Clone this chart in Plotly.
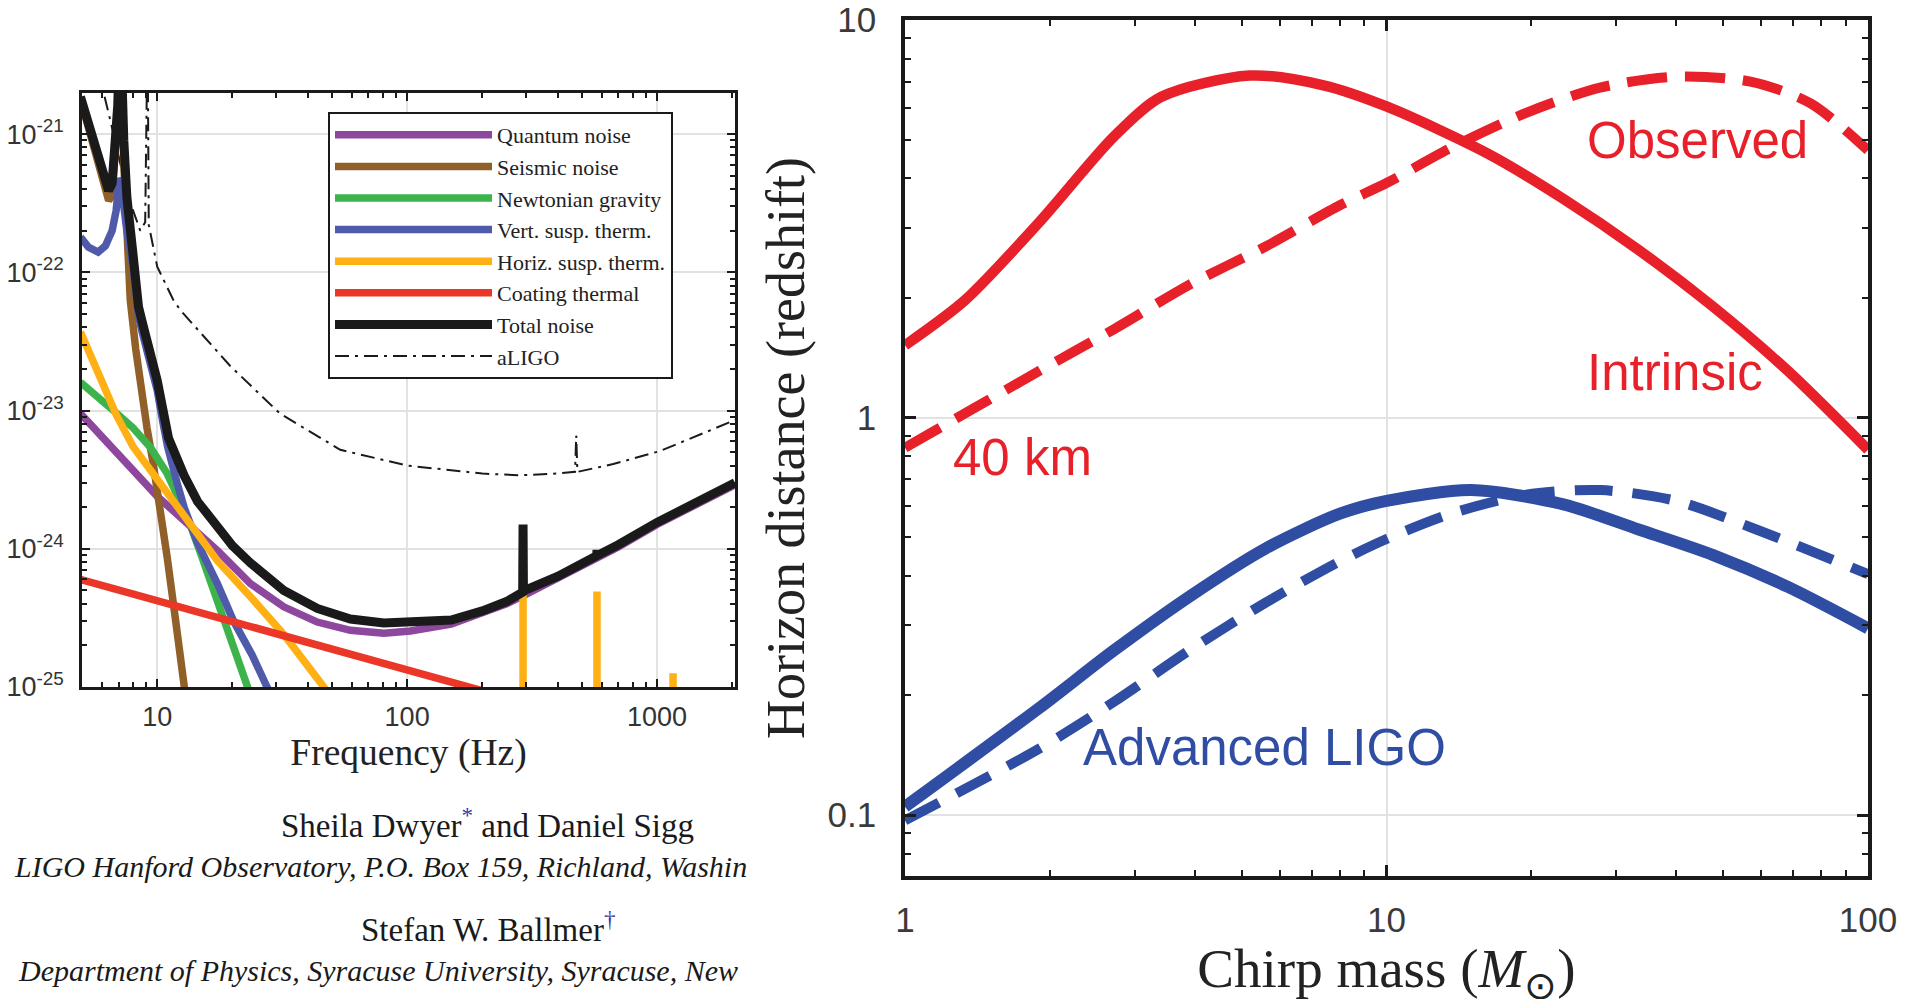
import math
import plotly.graph_objects as go

# ---------------- LEFT PANEL DATA (strain noise, 1/sqrt(Hz)) ----------------
quantum_f = [4.93, 7, 10, 12.8, 17.4, 23.6, 32.1, 43.7, 59.3, 80.7, 103, 150, 200, 250, 300, 400, 500, 700, 1000, 1500, 2050]
quantum_h = [9.5e-24, 4.8e-24, 2.4e-24, 1.6e-24, 9.7e-25, 5.6e-25, 3.8e-25, 2.95e-25, 2.57e-25, 2.45e-25, 2.54e-25,
             2.85e-25, 3.4e-25, 4.0e-25, 4.7e-25, 6.1e-25, 7.5e-25, 1.03e-24, 1.5e-24, 2.15e-24, 2.9e-24]

seismic_f = [4.93, 5.55, 6.0, 6.39, 6.6, 6.8, 6.95, 7.05, 7.12, 7.2, 7.35, 7.56, 7.8, 8.2, 8.68, 9.1, 9.6, 10.3, 10.96, 11.8, 12.8, 13.5]
seismic_h = [1.8e-21, 8.6e-22, 5e-22, 3.3e-22, 3.6e-22, 6.5e-22, 1.4e-21, 4e-21, 1e-20, 3e-21, 6e-22, 1.5e-22, 6.3e-23,
             2.8e-23, 1.3e-23, 7.5e-24, 4.3e-24, 1.9e-24, 8.7e-25, 3.2e-25, 1e-25, 5e-26]

newton_f = [4.93, 6.0, 6.86, 8.0, 9.4, 10.96, 13.2, 15.0, 17.4, 20.0, 22.9, 25.0]
newton_h = [1.6e-23, 1.2e-23, 9.6e-24, 7.5e-24, 5.4e-24, 3.5e-24, 1.7e-24, 9e-25, 4.2e-25, 2.1e-25, 1e-25, 6.5e-26]

vert_f = [4.93, 5.3, 5.8, 6.2, 6.6, 6.85, 7.0, 7.05, 7.15, 7.3, 7.56, 8.0, 8.2, 8.42, 8.7, 9.0, 10, 10.5, 11, 12,
          12.8, 14.5, 17.4, 20.2, 24, 27.5, 30]
vert_h = [1.8e-22, 1.52e-22, 1.4e-22, 1.55e-22, 2.0e-22, 2.8e-22, 4.2e-22, 4.8e-22, 4.5e-22, 3.2e-22, 2e-22, 1.1e-22,
          6.8e-23, 4.8e-23, 3.7e-23, 2.9e-23, 1.4e-23, 8.5e-24, 5.5e-24, 3e-24, 2.0e-24, 1.1e-24, 5.6e-25, 3.0e-25,
          1.7e-25, 1e-25, 7e-26]

# horizontal suspension thermal, incl. violin-mode lines at 291, 575, 1159 Hz
horiz_f = [4.93, 5.5, 6.0, 6.86, 8.0, 9.4, 12.8, 17.4, 23.6, 32.1, 46.4, 55, 200,
           291, 291, 291, 575, 575, 575, 1159, 1159, 1159, 2050]
horiz_h = [3.7e-23, 2.4e-23, 1.65e-23, 9.3e-24, 5.5e-24, 3.7e-24, 1.7e-24, 8.2e-25, 4.5e-25, 2.4e-25, 1e-25, 6.5e-26, 1e-27,
           1e-27, 4.7e-25, 1e-27, 1e-27, 4.9e-25, 1e-27, 1e-27, 1.26e-25, 1e-27, 1e-27]

coating_f = [4.93, 9.4, 103, 174, 250]
coating_h = [6.0e-25, 4.35e-25, 1.32e-25, 1.0e-25, 8.4e-26]

total_f = [4.93, 5.55, 6.0, 6.39, 6.6, 6.8, 6.95, 7.05, 7.12, 7.2, 7.35, 7.56, 8.0, 8.2, 8.42, 8.7, 9.0, 10, 10.5,
           11.1, 12.8, 14.5, 17.4, 20, 23.6, 32.1, 43.7, 59.3, 80.7, 103, 150, 200, 250, 290, 291, 291, 292, 400,
           500, 574, 575, 577, 700, 1000, 1500, 2050]
total_h = [1.86e-21, 9.1e-22, 5.3e-22, 3.9e-22, 4.4e-22, 8.1e-22, 1.6e-21, 4e-21, 1e-20, 3.2e-21, 9e-22, 3.5e-22,
           1.35e-22, 8e-23, 5.6e-23, 4.4e-23, 3.5e-23, 1.65e-23, 1.05e-23, 6.3e-24, 3.4e-24, 2.2e-24, 1.45e-24,
           1.05e-24, 7.9e-25, 5.0e-25, 3.7e-25, 3.1e-25, 2.9e-25, 2.95e-25, 3.05e-25, 3.55e-25, 4.15e-25, 4.85e-25,
           1.5e-24, 4.9e-25, 4.95e-25, 6.3e-25, 7.8e-25, 8.9e-25, 9.8e-25, 8.95e-25, 1.07e-24, 1.55e-24, 2.25e-24, 3.0e-24]

aligo_f = [5.9, 6.1, 6.69, 7.3, 7.8, 8.55, 8.95, 9.05, 9.15, 9.25, 10, 11.6, 12.4, 19.6, 31, 54, 100, 200, 280,
           400, 470, 475, 480, 668, 1030, 1977, 2050]
aligo_h = [3e-21, 2e-21, 1e-21, 5e-22, 3.2e-22, 2.0e-22, 2.3e-22, 6e-21, 6e-21, 2.2e-22, 1.1e-22, 6.3e-23, 5.3e-23,
           2.1e-23, 9.5e-24, 5.2e-24, 4.0e-24, 3.5e-24, 3.4e-24, 3.5e-24, 3.6e-24, 6.6e-24, 3.6e-24, 4.1e-24,
           5.1e-24, 8.3e-24, 8.6e-24]

left_xticks = [10, 100, 1000]
left_xtext = ["10", "100", "1000"]
left_yticks = [1e-25, 1e-24, 1e-23, 1e-22, 1e-21]
left_ytext = ["10<sup>-25</sup>", "10<sup>-24</sup>", "10<sup>-23</sup>", "10<sup>-22</sup>", "10<sup>-21</sup>"]

# ---------------- RIGHT PANEL DATA (horizon distance, redshift) ----------------
intr_red_m = [1, 1.33, 1.9, 2.72, 3.4, 5.2, 7.4, 10, 16.3, 23.3, 33.4, 47.7, 68.2, 100]
intr_red_z = [1.52, 1.97, 3.1, 5.1, 6.4, 7.25, 6.85, 6.06, 4.6, 3.55, 2.64, 1.9, 1.31, 0.83]

obs_red_m = [1, 1.38, 1.9, 2.72, 3.9, 5.6, 8.0, 10, 13.6, 19.5, 27.9, 40, 57, 76, 100]
obs_red_z = [0.84, 1.05, 1.31, 1.67, 2.16, 2.69, 3.42, 3.89, 4.77, 5.84, 6.77, 7.2, 7.0, 6.17, 4.7]

intr_blue_m = [1, 1.9, 2.72, 3.9, 5.6, 8.0, 10, 15, 23.3, 33.4, 47.7, 68.2, 100]
intr_blue_z = [0.105, 0.186, 0.26, 0.355, 0.468, 0.573, 0.617, 0.657, 0.605, 0.523, 0.451, 0.375, 0.295]

obs_blue_m = [1, 1.9, 2.72, 3.9, 5.6, 8.0, 10, 13.6, 19.5, 27.9, 40, 57, 100]
obs_blue_z = [0.097, 0.147, 0.193, 0.26, 0.342, 0.435, 0.495, 0.573, 0.64, 0.657, 0.617, 0.53, 0.404]

right_xticks = [1, 10, 100]
right_xtext = ["1", "10", "100"]
right_yticks = [0.1, 1, 10]
right_ytext = ["0.1", "1", "10"]

SERIF = "Liberation Serif, Times New Roman, serif"
SANS = "Liberation Sans, Arial, sans-serif"
W, H, OFF = 1913, 999, 8  # page body margin offset


def px_x(p):
    return (p - OFF) / W


def px_y(p):
    return 1 - (p - OFF) / H


fig = go.Figure()

left_traces = [
    ("aLIGO", aligo_f, aligo_h, "#1a1a1a", 2, "14px,6px,3px,6px", 8),
    ("Quantum noise", quantum_f, quantum_h, "#8e479f", 7.5, "solid", 1),
    ("Seismic noise", seismic_f, seismic_h, "#916028", 7.5, "solid", 2),
    ("Newtonian gravity", newton_f, newton_h, "#3cb44b", 7.5, "solid", 3),
    ("Vert. susp. therm.", vert_f, vert_h, "#4f5aaa", 7.5, "solid", 4),
    ("Horiz. susp. therm.", horiz_f, horiz_h, "#ffb014", 7.5, "solid", 5),
    ("Coating thermal", coating_f, coating_h, "#ea3728", 7.5, "solid", 6),
    ("Total noise", total_f, total_h, "#1a1a1a", 9, "solid", 7),
]
for name, xs, ys, col, w, dash, rank in left_traces:
    fig.add_trace(go.Scatter(x=xs, y=ys, name=name, mode="lines", legendrank=rank,
                             line=dict(color=col, width=w, dash=dash),
                             xaxis="x", yaxis="y", legend="legend"))

right_traces = [
    (obs_red_m, obs_red_z, "#e8202a", 10, "40px,18px"),
    (intr_red_m, intr_red_z, "#e8202a", 10.5, "solid"),
    (obs_blue_m, obs_blue_z, "#2f4da3", 10, "38px,20px"),
    (intr_blue_m, intr_blue_z, "#2f4da3", 12, "solid"),
]
for xs, ys, col, w, dash in right_traces:
    fig.add_trace(go.Scatter(x=xs, y=ys, mode="lines", showlegend=False,
                             line=dict(color=col, width=w, dash=dash, shape="spline", smoothing=0.8),
                             xaxis="x2", yaxis="y2"))


def minor_vals(lo_exp, hi_exp):
    return [m * 10.0 ** e for e in range(lo_exp, hi_exp + 1) for m in range(2, 10)]


left_axis_common = dict(type="log", showline=True, linecolor="#1a1a1a", linewidth=2.5, mirror="ticks",
                        ticks="inside", ticklen=8, tickwidth=2, tickcolor="#1a1a1a", automargin=False,
                        showgrid=True, gridcolor="#e2e2e2", gridwidth=2, zeroline=False,
                        ticklabeloverflow="allow",
                        tickfont=dict(family=SANS, size=27, color="#333333"))
right_axis_common = dict(type="log", showline=True, linecolor="#1a1a1a", linewidth=3.5, mirror="ticks",
                         ticks="inside", ticklen=11, tickwidth=2.5, tickcolor="#1a1a1a", automargin=False,
                         showgrid=True, gridcolor="#e2e2e2", gridwidth=2, zeroline=False,
                         ticklabeloverflow="allow",
                         tickfont=dict(family=SANS, size=35, color="#3a3a3a"))

fig.update_layout(
    width=W, height=H, autosize=False,
    margin=dict(l=0, r=0, t=0, b=0, autoexpand=False),
    paper_bgcolor="white", plot_bgcolor="white",
    xaxis=dict(left_axis_common, domain=[px_x(82), px_x(735)], range=[0.699, 3.312],
               tickmode="array", tickvals=left_xticks, ticktext=left_xtext, ticklabelstandoff=4,
               minor=dict(tickmode="array", tickvals=minor_vals(0, 3), ticks="inside", ticklen=5,
                          tickwidth=1.5, tickcolor="#1a1a1a", showgrid=False),
               title=dict(text="Frequency (Hz)", font=dict(family=SERIF, size=37.5, color="#222222"), standoff=6),
               anchor="y"),
    yaxis=dict(left_axis_common, domain=[px_y(687), px_y(93)], range=[-25, -20.703],
               tickmode="array", tickvals=left_yticks, ticktext=left_ytext, ticklabelstandoff=10,
               minor=dict(tickmode="array", tickvals=minor_vals(-26, -21), ticks="inside", ticklen=5,
                          tickwidth=1.5, tickcolor="#1a1a1a", showgrid=False),
               anchor="x"),
    xaxis2=dict(right_axis_common, domain=[px_x(905), px_x(1868)], range=[0, 2],
                tickmode="array", tickvals=right_xticks, ticktext=right_xtext, ticklabelstandoff=10,
                minor=dict(tickmode="array", tickvals=minor_vals(0, 1), ticks="inside", ticklen=6,
                           tickwidth=2, tickcolor="#1a1a1a", showgrid=False),
                title=dict(text="Chirp mass (<i>M</i><sub>⊙</sub>)",
                           font=dict(family=SERIF, size=55, color="#222222"), standoff=22),
                anchor="y2"),
    yaxis2=dict(right_axis_common, domain=[px_y(876), px_y(20)], range=[-1.153, 1.0],
                tickmode="array", tickvals=right_yticks, ticktext=right_ytext, ticklabelstandoff=18,
                minor=dict(tickmode="array", tickvals=minor_vals(-2, 0), ticks="inside", ticklen=6,
                           tickwidth=2, tickcolor="#1a1a1a", showgrid=False),
                title=dict(text="Horizon distance (redshift)",
                           font=dict(family=SERIF, size=54, color="#222222"), standoff=7),
                anchor="x2"),
    legend=dict(x=px_x(328), y=px_y(112), xanchor="left", yanchor="top", bgcolor="white",
                bordercolor="#1a1a1a", borderwidth=2, itemwidth=157, tracegroupgap=0,
                entrywidth=196, entrywidthmode="pixels",
                font=dict(family=SERIF, size=22, color="#222222")),
    showlegend=True,
)

RED = "#e8202a"
BLUE = "#2f4da3"
right_labels = [
    ("Observed", 44.2, 4.99, RED),
    ("Intrinsic", 39.7, 1.30, RED),
    ("40 km", 1.75, 0.795, RED),
    ("Advanced LIGO", 5.59, 0.148, BLUE),
]
for txt, xm, yz, col in right_labels:
    fig.add_annotation(x=math.log10(xm), y=math.log10(yz), xref="x2", yref="y2", text=txt, showarrow=False,
                       font=dict(family=SANS, size=51, color=col))

authors = [
    ("Sheila Dwyer<sup><span style='color:#3a3aa8'>*</span></sup> and Daniel Sigg", 487, 823, "center", 33),
    ("<i>LIGO Hanford Observatory, P.O. Box 159, Richland, Washin</i>", 12, 866, "left", 30),
    ("Stefan W. Ballmer<sup><span style='color:#3a3aa8'>†</span></sup>", 488, 927, "center", 33),
    ("<i>Department of Physics, Syracuse University, Syracuse, New</i>", 16, 970, "left", 30),
]
for txt, px, py, anchor, size in authors:
    fig.add_annotation(x=px_x(px), y=px_y(py), xref="paper", yref="paper", text=txt, showarrow=False,
                       xanchor=anchor, yanchor="middle",
                       font=dict(family=SERIF, size=size, color="#1a1a1a"))

fig.write_html("out.html")
